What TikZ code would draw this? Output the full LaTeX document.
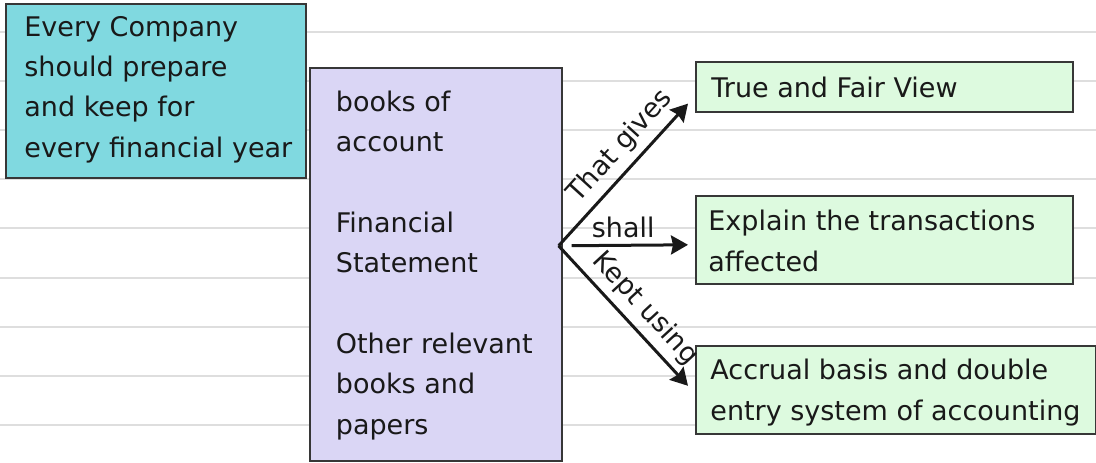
\documentclass[tikz,border=0pt]{standalone}
\usepackage{fontspec}
\setmainfont{DejaVu Sans}
\usetikzlibrary{arrows.meta,positioning}

\definecolor{ruleGray}{RGB}{222,222,222}
\definecolor{companyCyan}{RGB}{128,217,224}
\definecolor{booksLilac}{RGB}{218,214,245}
\definecolor{resultGreen}{RGB}{221,250,223}
\definecolor{edgeGray}{RGB}{55,55,55}
\definecolor{inkBlack}{RGB}{25,25,25}

\begin{document}
\begin{tikzpicture}[x=0.5pt, y=-0.5pt]
			\tikzstyle{Box}		= [rectangle, draw=edgeGray, line width=0.8pt, anchor=north west, inner sep=0pt]
			\tikzstyle{Company}	= [Box, fill=companyCyan, minimum width=150pt, minimum height=87pt]
			\tikzstyle{Books}	= [Box, fill=booksLilac, minimum width=126pt, minimum height=196.5pt]
			\tikzstyle{Result}	= [Box, fill=resultGreen, minimum width=188.5pt]
			\tikzstyle{Txt}		= [anchor=base west, align=left, inner sep=0pt, text=inkBlack, font=\fontsize{13.5}{20.15}\selectfont]
			\tikzstyle{Link}	= [line width=1.5pt, inkBlack, -{Stealth[length=8.5pt, width=9.5pt, inset=1pt]}]
			\tikzstyle{Lbl}		= [text=inkBlack, font=\fontsize{13.5}{16}\selectfont, sloped]
			\tikzstyle{Rule}	= [line width=1pt, ruleGray]

			\fill [white] (0,0) rectangle (1096,462);
			\useasboundingbox (0,0) rectangle (1096,462);

			% ruled paper
			\foreach \k in {0,...,8}
				\draw [Rule] (0,{32+49.1*\k}) -- (1096,{32+49.1*\k});

			% boxes
			\node (company) at (5,3) [Company] {};
			\node (books) at (309,67) [Books] {};
			\node (view) at (695,61) [Result][minimum height=25pt] {};
			\node (explain) at (695,195) [Result][minimum height=44pt] {};
			\node (accrual) at (695,345) [Result][minimum width=200pt, minimum height=44pt] {};

			% texts (base = last line)
			\node (companyText) at (24,157) [Txt] {Every Company\\should prepare\\and keep for\\every financial year};
			\node (booksText) at (335.5,434) [Txt] {books of\\account\\[20.15pt]Financial\\Statement\\[20.15pt]Other relevant\\books and\\papers};
			\node (viewText) at (711,97) [Txt] {True and Fair View};
			\node (explainText) at (708,271) [Txt] {Explain the transactions\\affected};
			\node (accrualText) at (710,420) [Txt] {Accrual basis and double\\entry system of accounting};

			% connectors
			\coordinate (fork) at ([shift={(-4,-18.5)}]books.east);
			\coordinate (toView) at ([shift={(-7,-9)}]view.south west);
			\coordinate (toExplain) at ([shift={(-7,5)}]explain.west);
			\coordinate (toAccrual) at ([shift={(-7,-4)}]accrual.west);

			\draw [Link] (fork) to node (gives) [Lbl, pos=0.6, above] {That gives} (toView);
			\draw [Link, shorten <=6.5pt] (fork) to node (shall) [Lbl, above, inner sep=3pt] {shall} (toExplain);
			\draw [Link] (fork) to node (kept) [Lbl, pos=0.55, above] {Kept using} (toAccrual);
\end{tikzpicture}
\end{document}
